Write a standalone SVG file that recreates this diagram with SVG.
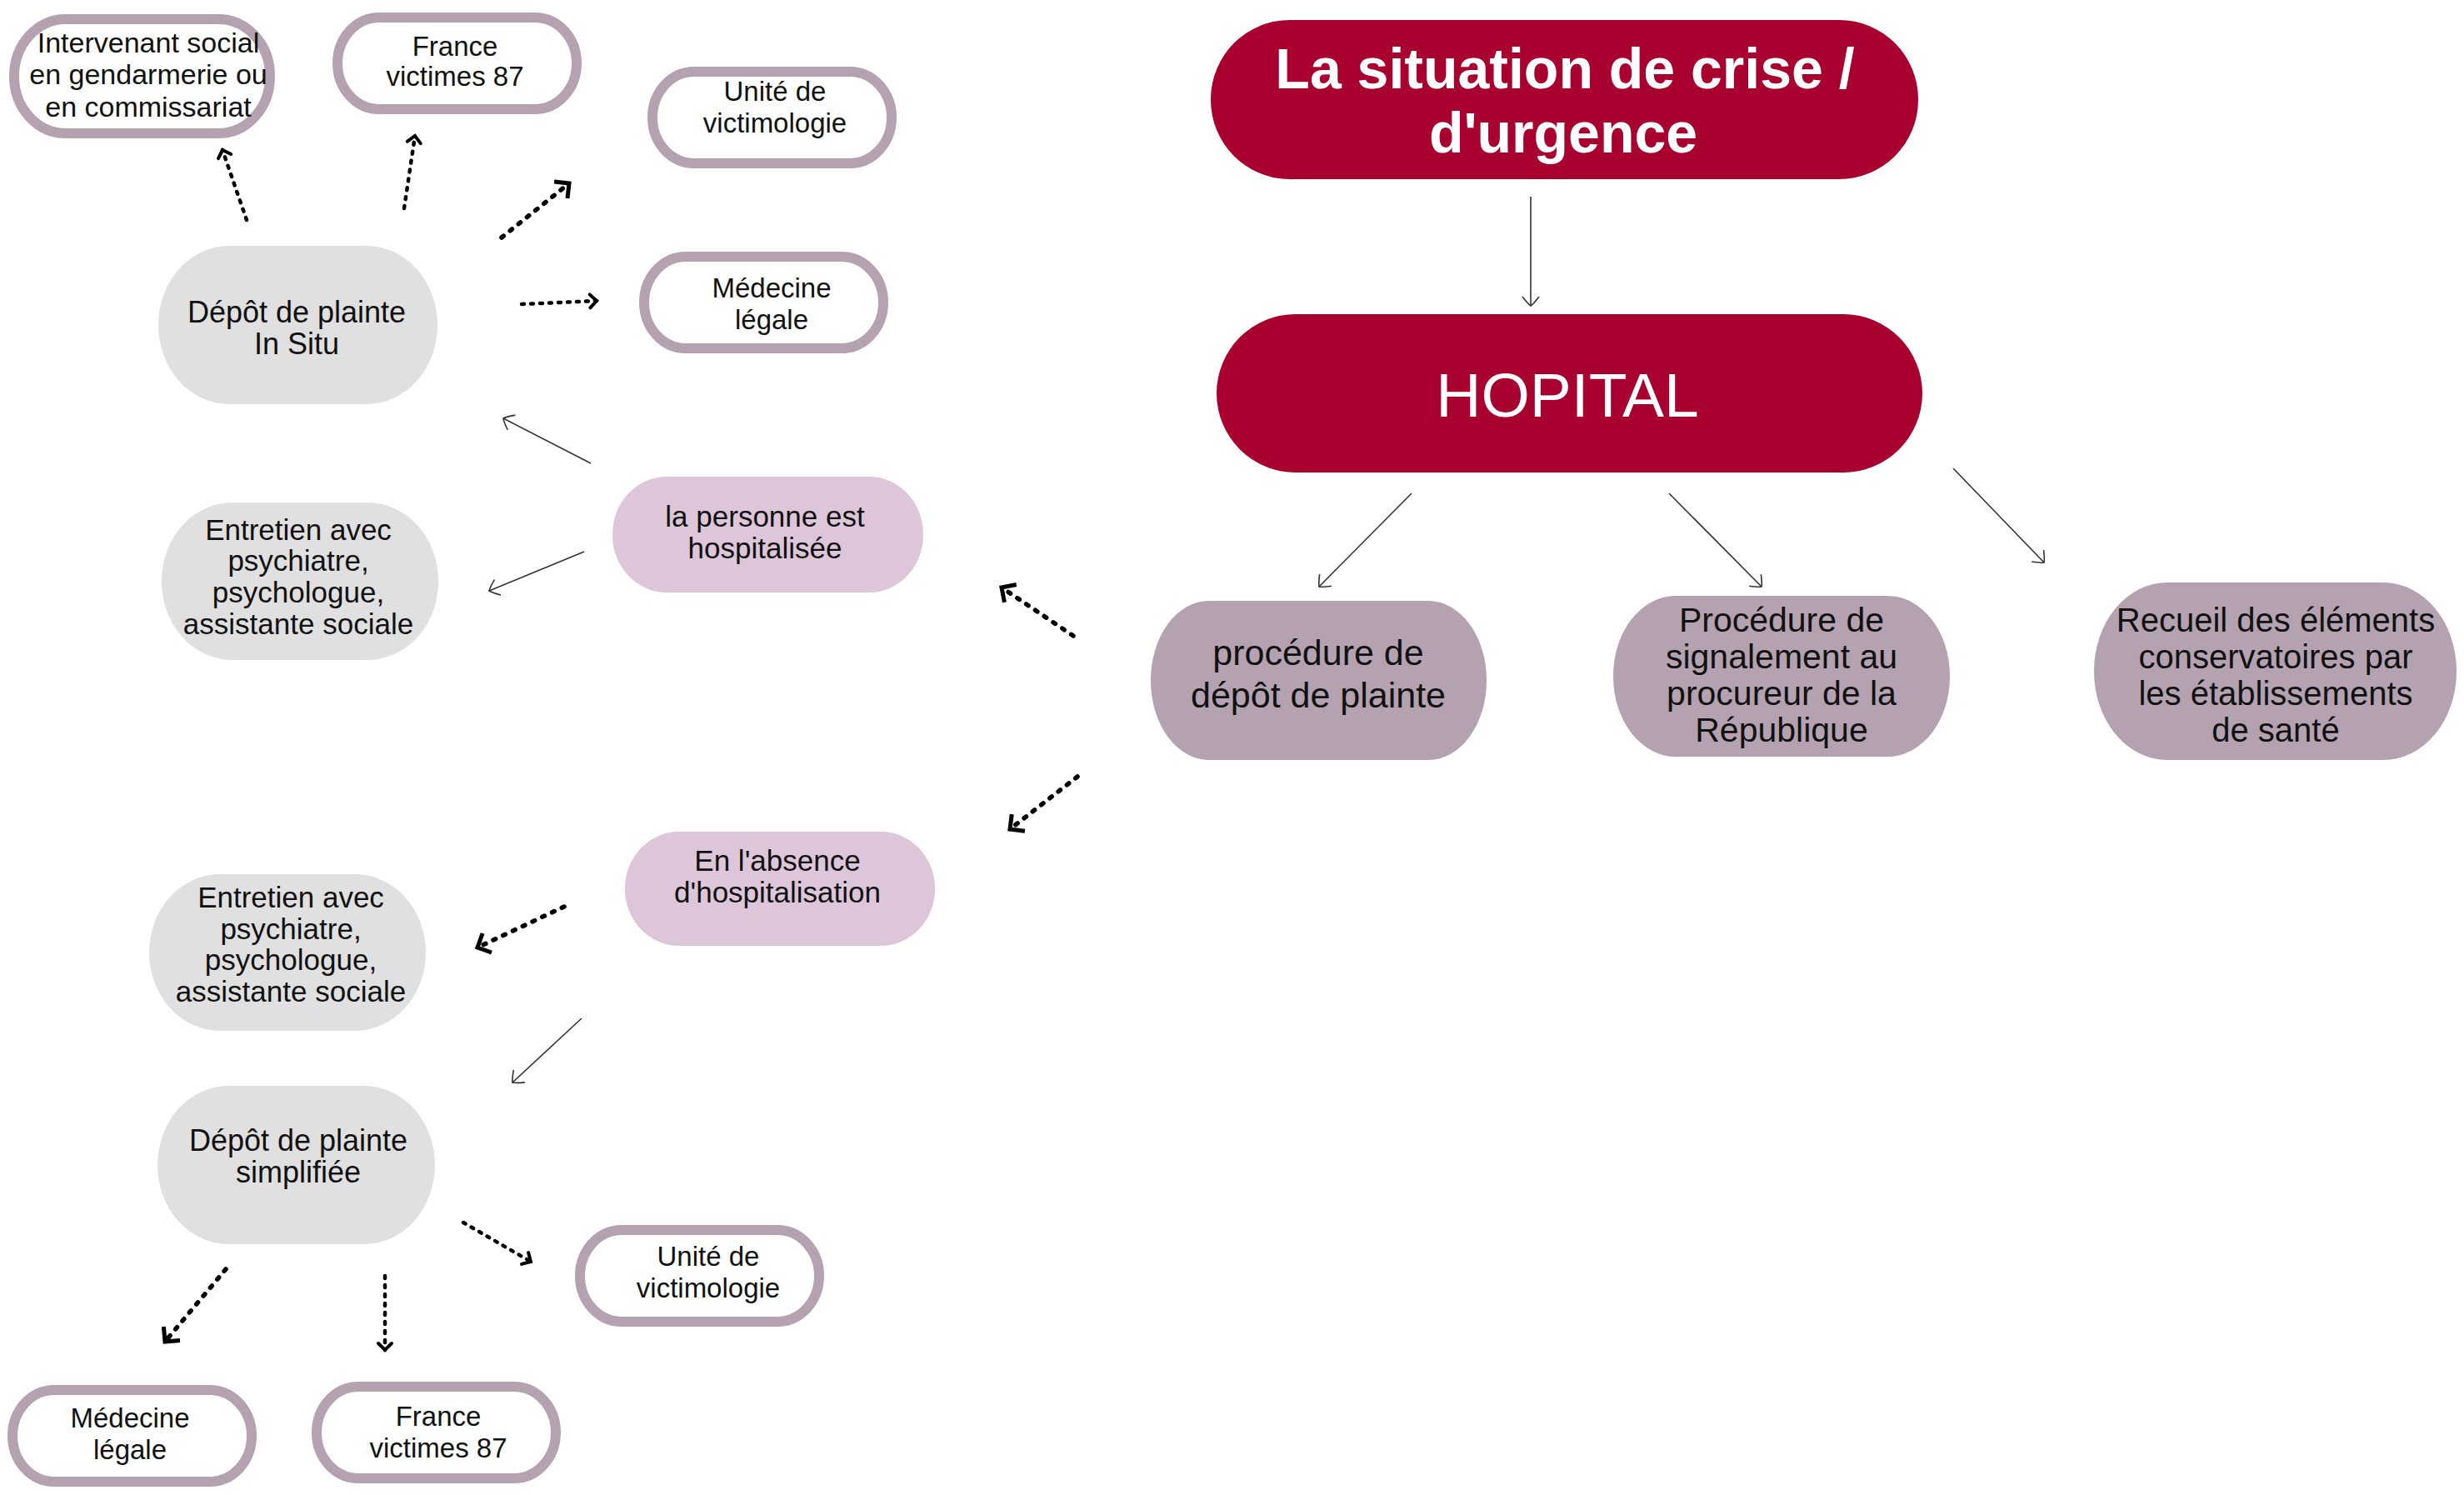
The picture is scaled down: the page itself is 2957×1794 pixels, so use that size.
<svg xmlns="http://www.w3.org/2000/svg" width="2957" height="1794" viewBox="0 0 2957 1794">
<defs>
<style>
text { font-family: "Liberation Sans", Arial, sans-serif; text-anchor: middle; fill: #111; }
.title { fill: #fff; font-weight: 700; font-size: 68px; }
.hop { fill: #fff; font-size: 75px; }
.crim { fill: #A8002F; }
.mauve { fill: #B4A2B1; }
.pink { fill: #DEC6DA; }
.gray { fill: #E0E0E0; }
.out { fill: #fff; stroke: #B4A2B1; stroke-width: 12; }
.f33 { font-size: 33px; }
.f34 { font-size: 34px; }
.f35 { font-size: 35px; }
.f36 { font-size: 36px; }
.f40 { font-size: 40px; }
.f41 { font-size: 41px; }
.f43 { font-size: 43px; }
.thin { fill: none; stroke: #333; stroke-width: 1.6; marker-end: url(#ahThin); }
.dotB { fill: none; stroke: #000; stroke-width: 5.5; stroke-linecap: round; stroke-dasharray: 3 10; marker-end: url(#ahBig); }
.dotS { fill: none; stroke: #000; stroke-width: 4.5; stroke-linecap: round; stroke-dasharray: 3 8; marker-end: url(#ahSmall); }
</style>
<marker id="ahThin" markerUnits="userSpaceOnUse" orient="auto" refX="0" refY="0" markerWidth="30" markerHeight="30" overflow="visible">
<path d="M -11 -10 Q -2 -3 0 0 Q -2 3 -11 10" fill="none" stroke="#333" stroke-width="1.6"/>
</marker>
<marker id="ahBig" markerUnits="userSpaceOnUse" orient="auto" refX="0" refY="0" markerWidth="30" markerHeight="30" overflow="visible">
<path d="M -11 -11 L 0 0 L -11 11" fill="none" stroke="#000" stroke-width="5" stroke-linecap="square"/>
</marker>
<marker id="ahSmall" markerUnits="userSpaceOnUse" orient="auto" refX="0" refY="0" markerWidth="30" markerHeight="30" overflow="visible">
<path d="M -8 -8 L 0 0 L -8 8" fill="none" stroke="#000" stroke-width="4" stroke-linecap="round"/>
</marker>
</defs>
<rect width="2957" height="1794" fill="#fff"/>

<g id="connectors">
<line class="thin" x1="1837" y1="236" x2="1837" y2="367"/>
<line class="thin" x1="1694" y1="592" x2="1583" y2="704"/>
<line class="thin" x1="2003" y1="592" x2="2114" y2="704"/>
<line class="thin" x1="2344" y1="562" x2="2453" y2="675"/>
<line class="thin" x1="709" y1="556" x2="604" y2="502"/>
<line class="thin" x1="701" y1="662" x2="587" y2="709"/>
<line class="thin" x1="698" y1="1222" x2="615" y2="1299"/>
<line class="dotB" x1="1288" y1="763" x2="1202" y2="705"/>
<line class="dotB" x1="1293" y1="932" x2="1212" y2="995"/>
<line class="dotB" x1="677" y1="1088" x2="573" y2="1137"/>
<line class="dotB" x1="271" y1="1523" x2="198" y2="1610"/>
<line class="dotB" x1="602" y1="285" x2="683" y2="220"/>
<line class="dotS" x1="296" y1="264" x2="267" y2="180"/>
<line class="dotS" x1="485" y1="250" x2="498" y2="163"/>
<line class="dotS" x1="626" y1="365" x2="716" y2="361"/>
<line class="dotS" x1="556" y1="1467" x2="637" y2="1514"/>
<line class="dotS" x1="462" y1="1531" x2="462" y2="1620"/>
</g>

<g id="n-crise">
<rect class="crim" x="1453" y="24" width="849" height="191" rx="95" ry="95"/>
<text class="title" x="1878" y="106">La situation de crise /</text>
<text class="title" x="1876" y="183">d'urgence</text>
</g>
<g id="n-hopital">
<rect class="crim" x="1460" y="377" width="847" height="190" rx="95" ry="95"/>
<text class="hop" x="1881" y="500">HOPITAL</text>
</g>
<g id="n-procedure">
<rect class="mauve" x="1381" y="721" width="403" height="191" rx="70" ry="95"/>
<text class="f43" x="1582" y="798">procédure de</text>
<text class="f43" x="1582" y="849">dépôt de plainte</text>
</g>
<g id="n-signalement">
<rect class="mauve" x="1936" y="715" width="404" height="193" rx="75" ry="96"/>
<text class="f41" x="2138" y="758">Procédure de</text>
<text class="f41" x="2138" y="802">signalement au</text>
<text class="f41" x="2138" y="846">procureur de la</text>
<text class="f41" x="2138" y="890">République</text>
</g>
<g id="n-recueil">
<rect class="mauve" x="2513" y="699" width="435" height="213" rx="88" ry="106"/>
<text class="f40" x="2731" y="758">Recueil des éléments</text>
<text class="f40" x="2731" y="802">conservatoires par</text>
<text class="f40" x="2731" y="846">les établissements</text>
<text class="f40" x="2731" y="890">de santé</text>
</g>
<g id="n-hospitalisee">
<rect class="pink" x="735" y="572" width="373" height="139" rx="65" ry="69"/>
<text class="f35" x="918" y="632">la personne est</text>
<text class="f35" x="918" y="670">hospitalisée</text>
</g>
<g id="n-absence">
<rect class="pink" x="750" y="998" width="372" height="137" rx="65" ry="68"/>
<text class="f35" x="933" y="1045">En l'absence</text>
<text class="f35" x="933" y="1083">d'hospitalisation</text>
</g>
<g id="n-insitu">
<rect class="gray" x="190" y="295" width="335" height="190" rx="85" ry="95"/>
<text class="f36" x="356" y="387">Dépôt de plainte</text>
<text class="f36" x="356" y="425">In Situ</text>
</g>
<g id="n-entretien1">
<rect class="gray" x="194" y="603" width="332" height="189" rx="85" ry="94"/>
<text class="f35" x="358" y="648">Entretien avec</text>
<text class="f35" x="358" y="685">psychiatre,</text>
<text class="f35" x="358" y="723">psychologue,</text>
<text class="f35" x="358" y="761">assistante sociale</text>
</g>
<g id="n-entretien2">
<rect class="gray" x="179" y="1049" width="332" height="188" rx="85" ry="94"/>
<text class="f35" x="349" y="1089">Entretien avec</text>
<text class="f35" x="349" y="1127">psychiatre,</text>
<text class="f35" x="349" y="1164">psychologue,</text>
<text class="f35" x="349" y="1202">assistante sociale</text>
</g>
<g id="n-simplifiee">
<rect class="gray" x="189" y="1303" width="333" height="190" rx="85" ry="95"/>
<text class="f36" x="358" y="1381">Dépôt de plainte</text>
<text class="f36" x="358" y="1419">simplifiée</text>
</g>
<g id="n-intervenant">
<rect class="out" x="17" y="23" width="307" height="137" rx="62" ry="68"/>
<text class="f34" x="178" y="63">Intervenant social</text>
<text class="f34" x="178" y="101">en gendarmerie ou</text>
<text class="f34" x="178" y="140">en commissariat</text>
</g>
<g id="n-france1">
<rect class="out" x="405" y="21" width="287" height="110" rx="50" ry="55"/>
<text class="f33" x="546" y="67">France</text>
<text class="f33" x="546" y="103">victimes 87</text>
</g>
<g id="n-unite1">
<rect class="out" x="783" y="86" width="287" height="110" rx="50" ry="55"/>
<text class="f33" x="930" y="121">Unité de</text>
<text class="f33" x="930" y="159">victimologie</text>
</g>
<g id="n-medecine1">
<rect class="out" x="773" y="308" width="287" height="110" rx="50" ry="55"/>
<text class="f33" x="926" y="357">Médecine</text>
<text class="f33" x="926" y="395">légale</text>
</g>
<g id="n-unite2">
<rect class="out" x="696" y="1476" width="287" height="110" rx="50" ry="55"/>
<text class="f33" x="850" y="1519">Unité de</text>
<text class="f33" x="850" y="1557">victimologie</text>
</g>
<g id="n-medecine2">
<rect class="out" x="15" y="1668" width="287" height="110" rx="50" ry="55"/>
<text class="f33" x="156" y="1713">Médecine</text>
<text class="f33" x="156" y="1751">légale</text>
</g>
<g id="n-france2">
<rect class="out" x="380" y="1664" width="287" height="110" rx="50" ry="55"/>
<text class="f33" x="526" y="1711">France</text>
<text class="f33" x="526" y="1749">victimes 87</text>
</g>
</svg>
